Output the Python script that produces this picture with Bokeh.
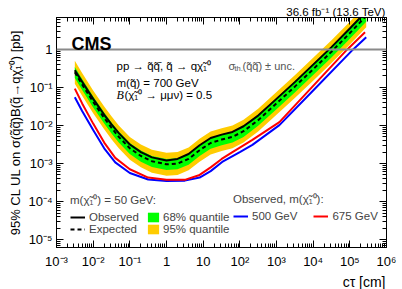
from bokeh.plotting import figure
from bokeh.models import (Range1d, LogAxis, FixedTicker, CustomJSTickFormatter, Span,
                          Label, Legend, LegendItem, Title)
from bokeh.embed import file_html
from bokeh.resources import INLINE

FONT = "Liberation Sans"

# ---------------- data ----------------
ctau = [0.00316, 0.005, 0.01, 0.02, 0.0316, 0.05, 0.1, 0.2, 0.4, 1, 2, 4, 8, 16, 32, 63,
        126, 316, 1000, 3160, 1e4, 3.16e4, 1e5, 2.8e5]
observed = [0.282, 0.141, 0.0501, 0.0191, 0.0107, 0.00631, 0.00316, 0.00200, 0.00145, 0.00120,
            0.00132, 0.00178, 0.00302, 0.00468, 0.00575, 0.00676, 0.00955, 0.0182, 0.0501,
            0.138, 0.398, 1.15, 3.55, 10.0]
expected = [0.251, 0.120, 0.0417, 0.0158, 0.00871, 0.00501, 0.00251, 0.00158, 0.00115, 0.000955,
            0.00100, 0.00132, 0.00224, 0.00347, 0.00427, 0.00501, 0.00708, 0.0138, 0.0380,
            0.105, 0.302, 0.871, 2.69, 7.59]
q68_lo = [0.178, 0.0851, 0.0295, 0.0112, 0.00617, 0.00355, 0.00178, 0.00112, 0.000813, 0.000676,
          0.000708, 0.000933, 0.00158, 0.00245, 0.00302, 0.00355, 0.00501, 0.00977, 0.0269,
          0.0741, 0.214, 0.617, 1.91, 5.37]
q68_hi = [0.347, 0.166, 0.0575, 0.0219, 0.0120, 0.00692, 0.00347, 0.00219, 0.00158, 0.00132,
          0.00138, 0.00182, 0.00309, 0.00479, 0.00589, 0.00692, 0.00977, 0.0191, 0.0525,
          0.145, 0.417, 1.20, 3.72, 10.5]
q95_lo = [0.126, 0.0603, 0.0209, 0.00794, 0.00437, 0.00251, 0.00126, 0.000794, 0.000575, 0.000479,
          0.000501, 0.000661, 0.00112, 0.00174, 0.00214, 0.00251, 0.00355, 0.00692, 0.0191,
          0.0525, 0.151, 0.437, 1.35, 3.80]
q95_hi = [0.501, 0.240, 0.0832, 0.0316, 0.0174, 0.0100, 0.00501, 0.00316, 0.00229, 0.00191,
          0.00200, 0.00263, 0.00447, 0.00692, 0.00851, 0.0100, 0.0141, 0.0275, 0.0759,
          0.209, 0.603, 1.74, 5.37, 15.1]

ctau_675 = [0.00316, 0.005, 0.01, 0.02, 0.04, 0.1, 0.316, 1, 3.16, 8, 16, 32, 63, 100, 220,
            1200, 1e4, 8.5e4, 2.6e5]
obs_675 = [0.0933, 0.0380, 0.0112, 0.00355, 0.00141, 0.000708, 0.000427, 0.000372, 0.000372,
           0.000501, 0.000794, 0.00132, 0.00200, 0.00263, 0.00417, 0.0123, 0.110, 1.0, 2.82]

ctau_500 = [0.00316, 0.005, 0.01, 0.02, 0.04, 0.1, 0.316, 1, 3.16, 8, 16, 33, 100, 220, 1200,
            1e4, 1.23e5, 2.8e5]
obs_500 = [0.0550, 0.0240, 0.00759, 0.00251, 0.00107, 0.000562, 0.000380, 0.000347, 0.000355,
           0.000427, 0.000631, 0.00110, 0.00200, 0.00309, 0.0102, 0.0832, 1.0, 2.09]

sigma_th = 1.0

x_major = [1e-3, 1e-2, 1e-1, 1, 10, 1e2, 1e3, 1e4, 1e5, 1e6]
y_major = [1e-5, 1e-4, 1e-3, 1e-2, 1e-1, 1]

# ---------------- figure ----------------
p = figure(width=402, height=289, x_axis_type="log", y_axis_type="log",
           x_range=Range1d(1e-3, 1e6), y_range=Range1d(6.2e-6, 6.9),
           output_backend="svg", toolbar_location=None,
           min_border_left=56, min_border_right=16, min_border_top=17, min_border_bottom=41)
p.grid.visible = False
p.outline_line_color = "black"
p.background_fill_color = "white"
p.border_fill_color = "white"

p.title.text = "36.6 fb\u207b\u00b9 (13.6 TeV)"
p.title.align = "right"
p.title.text_font = FONT
p.title.text_font_size = "11.5px"
p.title.text_font_style = "normal"
p.title.text_color = "black"
p.title.standoff = 0
p.title.offset = 1

x_minor = [k * 10.0 ** n for n in range(-3, 6) for k in range(2, 10)]
y_minor = [k * 10.0 ** n for n in range(-6, 1) for k in range(2, 10)]
xt = FixedTicker(ticks=x_major, minor_ticks=x_minor)
yt = FixedTicker(ticks=y_major, minor_ticks=y_minor)

fmt_code = """
const e = Math.round(Math.log10(tick));
if (e === 0) return '1';
if (e === 1) return '10';
const m = {'-':'\u207b','0':'\u2070','1':'\u00b9','2':'\u00b2','3':'\u00b3','4':'\u2074',
           '5':'\u2075','6':'\u2076','7':'\u2077','8':'\u2078','9':'\u2079'};
return '10' + String(e).split('').map(c => m[c]).join('');
"""

def style_axis(ax, labels=True):
    ax.major_tick_in = 7
    ax.major_tick_out = 0
    ax.minor_tick_in = 4
    ax.minor_tick_out = 0
    ax.axis_line_color = "black"
    ax.major_tick_line_color = "black"
    ax.minor_tick_line_color = "black"
    ax.major_label_text_font = FONT
    ax.formatter = CustomJSTickFormatter(code=fmt_code)
    if labels:
        ax.major_label_text_font_size = "13px"
        ax.major_label_text_color = "black"
    else:
        ax.major_label_text_font_size = "1px"
        ax.major_label_text_alpha = 0.0
        ax.major_label_standoff = 0

xa = p.xaxis[0]
xa.ticker = xt
style_axis(xa)
xa.major_label_standoff = 6
ya = p.yaxis[0]
ya.ticker = yt
style_axis(ya)
ya.major_label_standoff = 4
ya.axis_label = "95% CL UL on \u03c3(q\u0303q\u0303\u0304)B(q\u0303\u2192q\u03c7\u0303\u2081\u2070) [pb]"
ya.axis_label_text_font = FONT
ya.axis_label_text_font_size = "13px"
ya.axis_label_text_font_style = "normal"
ya.axis_label_text_color = "black"
ya.axis_label_standoff = 2

top_ax = LogAxis(ticker=xt)
style_axis(top_ax, labels=False)
p.add_layout(top_ax, "above")
right_ax = LogAxis(ticker=yt)
style_axis(right_ax, labels=False)
p.add_layout(right_ax, "right")

# x-axis title, right-aligned under the axis
xtitle = Title(text="c\u03c4 [cm]", align="right", text_font=FONT, text_font_size="14px",
               text_font_style="normal", text_color="black", standoff=0, offset=1)
p.add_layout(xtitle, "below")

# ---------------- glyphs ----------------
r95 = p.varea(x=ctau, y1=q95_lo, y2=q95_hi, fill_color="#ffcc00")
r68 = p.varea(x=ctau, y1=q68_lo, y2=q68_hi, fill_color="#00ff00")
r_exp = p.line(ctau, expected, line_color="black", line_width=2, line_dash="4 3")
r_obs = p.line(ctau, observed, line_color="black", line_width=2)
r_500 = p.line(ctau_500, obs_500, line_color="#0000ff", line_width=2)
r_675 = p.line(ctau_675, obs_675, line_color="#ff0000", line_width=2)

p.add_layout(Span(location=sigma_th, dimension="width", line_color="#8a8a8a", line_width=2))

# ---------------- legends ----------------
def style_legend(lg):
    lg.label_text_font = FONT
    lg.label_text_font_size = "11.5px"
    lg.title_text_font = FONT
    lg.title_text_font_size = "11.5px"
    lg.title_text_font_style = "normal"
    lg.border_line_color = None
    lg.background_fill_alpha = 0
    lg.padding = 0
    lg.margin = 0
    lg.spacing = 0
    lg.label_height = 12
    lg.glyph_height = 12
    lg.glyph_width = 15
    lg.label_standoff = 4
    lg.title_standoff = 4

leg1 = Legend(items=[LegendItem(label="Observed", renderers=[r_obs]),
                     LegendItem(label="Expected", renderers=[r_exp])],
              title="m(\u03c7\u0303\u2081\u2070) = 50 GeV:", location=(14, 12),
              orientation="vertical")
style_legend(leg1)
p.add_layout(leg1)

leg1b = Legend(items=[LegendItem(label="68% quantile", renderers=[r68]),
                      LegendItem(label="95% quantile", renderers=[r95])],
               location=(90, 12), orientation="vertical")
style_legend(leg1b)
leg1b.glyph_width = 14
leg1b.label_standoff = 3
p.add_layout(leg1b)

leg2 = Legend(items=[LegendItem(label="500 GeV", renderers=[r_500]),
                     LegendItem(label="675 GeV", renderers=[r_675])],
              title="Observed, m(\u03c7\u0303\u2081\u2070):", location=(177, 25),
              orientation="horizontal")
style_legend(leg2)
leg2.spacing = 16
p.add_layout(leg2)

# ---------------- texts ----------------
def lab(text, x, y, size="11.5px", style="normal", color="black", font=FONT, align="left"):
    p.add_layout(Label(x=x, y=y, x_units="screen", y_units="screen", text=text,
                       text_font=font, text_font_size=size, text_font_style=style,
                       text_color=color, text_align=align, text_baseline="alphabetic"))

lab("CMS", 15, 204, size="18px", style="bold")
lab("pp \u2192 q\u0303q\u0303\u0304, q\u0303 \u2192 q\u03c7\u0303\u2081\u2070", 60, 182)
lab("m(q\u0303) = 700 GeV", 60, 165)
lab("B", 60, 153, font="Liberation Serif", style="italic", size="12px")
lab("(\u03c7\u0303\u2081\u2070 \u2192 \u03bc\u03bc\u03bd) = 0.5", 68, 153)
lab("\u03c3", 172, 182, color="#555555", size="11px")
lab("th.", 178, 179, color="#555555", size="7.5px")
lab("(q\u0303q\u0303\u0304) \u00b1 unc.", 186, 182, color="#555555", size="11px")

open("out.html", "w").write(file_html(p, INLINE))
